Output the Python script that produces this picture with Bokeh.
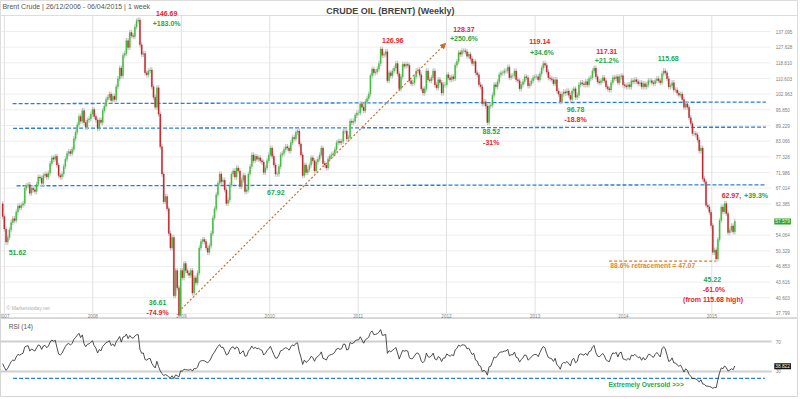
import numpy as np
import pandas as pd
from bokeh.plotting import figure
from bokeh.layouts import column
from bokeh.models import ColumnDataSource, Range1d, Label, Arrow, NormalHead
from bokeh.core.properties import value
from bokeh.embed import file_html
from bokeh.resources import INLINE

# ---------------- data (weekly Brent closes) ----------------
first_week = "2006-12-25"
rsi_warmup = [63.8, 60.5, 62.5, 59.8, 59.5, 57.9, 60.3, 60.0, 60.5, 58.3, 60.5, 63.4, 62.0, 63.1, 62.4]
closes_2006 = [58.9]
closes_2007 = [55.6, 52.4, 53.5, 55.4, 57.3,
               58.3, 57.8, 60.1, 61.8,
               61.3, 62.0, 62.5, 67.0,
               67.8, 68.1, 65.5, 67.0, 66.5,
               66.0, 68.2, 70.5, 70.2,
               68.5, 71.0, 71.5, 70.5,
               71.8, 75.0, 77.0, 76.5, 77.5,
               74.5, 71.0, 70.5, 71.5,
               74.0, 76.5, 78.5, 79.2,
               78.5, 80.0, 84.0, 86.5, 89.5,
               93.0, 91.0, 95.5, 90.5,
               88.5, 91.5, 92.0, 94.0, 96.0]
closes_2008 = [93.0, 91.5, 88.0, 91.5,
               90.5, 95.5, 97.5, 100.5,
               101.5, 103.0, 100.0, 102.0, 100.5,
               106.5, 110.5, 116.0, 112.0,
               123.0, 124.0, 131.5, 127.5,
               136.5, 134.5, 134.0, 140.0, 144.0,
               144.5, 129.0, 123.5, 124.0,
               113.5, 112.5, 114.5, 115.0,
               106.5, 101.5, 97.0, 106.0, 94.0,
               81.0, 71.5, 63.0, 64.5,
               61.0, 54.5, 51.0, 53.5,
               41.0, 46.0, 42.5, 37.5, 46.0]
closes_2009 = [44.5, 47.5, 46.0, 45.5,
               45.0, 46.0, 41.5, 44.5,
               43.5, 45.5, 51.0, 52.5, 53.0,
               52.5, 51.0, 50.0, 51.5,
               54.5, 58.5, 61.0, 65.0,
               68.5, 71.5, 69.0, 69.5, 66.5,
               62.5, 63.5, 68.0, 71.5,
               72.5, 70.5, 73.5, 72.5, 67.5,
               69.5, 71.0, 66.0, 66.5,
               71.5, 74.0, 78.0, 76.0,
               77.5, 76.5, 77.0, 76.0, 75.5,
               72.0, 73.5, 76.0, 78.0]
closes_2010 = [80.5, 77.5, 74.5, 71.5,
               71.5, 74.0, 78.0, 78.5,
               80.0, 81.0, 80.5, 79.5, 82.5,
               84.5, 84.0, 86.5, 87.0,
               82.0, 78.0, 71.0, 74.5, 72.0,
               73.0, 74.5, 77.0, 76.0,
               72.5, 75.5, 76.5, 78.0,
               80.5, 75.0, 74.5, 73.5, 76.5,
               77.5, 78.0, 78.5, 80.0,
               82.5, 83.0, 82.5, 83.0,
               87.0, 87.0, 84.0, 84.5, 91.0,
               90.5, 91.0, 93.5, 94.5]
closes_2011 = [94.5, 98.5, 97.0, 95.5, 99.5,
               101.0, 103.0, 112.0, 115.5,
               113.5, 114.0, 115.5, 118.5,
               126.5, 123.0, 123.5, 125.0,
               109.5, 113.5, 112.0, 114.5, 116.0,
               118.5, 113.0, 105.5, 111.5,
               118.0, 117.0, 118.0, 117.5,
               109.5, 108.0, 108.5, 111.5, 114.5,
               115.0, 112.5, 105.5, 103.5,
               105.5, 114.5, 110.0, 109.5, 111.0,
               114.5, 107.5, 106.0, 110.0,
               108.5, 103.5, 107.5, 107.5]
closes_2012 = [112.5, 111.0, 110.0, 111.5, 110.5,
               117.5, 119.5, 124.5, 123.5,
               125.5, 125.5, 125.0, 122.5,
               123.5, 121.0, 118.5, 119.5, 113.5,
               112.5, 107.5, 106.5, 98.5,
               99.5, 97.5, 90.5, 97.5,
               98.0, 102.5, 107.5, 106.5, 109.0,
               112.5, 113.5, 113.5, 114.5,
               114.5, 116.5, 111.0, 112.0,
               112.0, 114.5, 110.0, 109.5, 105.5,
               107.5, 109.0, 111.5, 111.0,
               107.0, 108.0, 109.5, 111.0, 111.5]
closes_2013 = [111.5, 110.0, 113.0, 116.0,
               118.5, 117.5, 114.0, 111.0,
               110.5, 110.0, 108.0, 110.0,
               104.5, 103.0, 99.5, 103.0, 104.0,
               103.5, 104.5, 102.5, 100.5,
               104.5, 105.5, 101.5, 102.5,
               107.5, 108.5, 108.0, 107.5, 109.0,
               107.5, 110.5, 111.0, 114.5,
               116.0, 111.5, 109.0, 108.5, 109.5,
               111.0, 109.5, 106.5, 105.5,
               105.0, 108.5, 111.0, 110.5,
               111.5, 108.5, 111.5, 112.0, 107.5]
closes_2014 = [107.0, 106.5, 107.5, 106.5,
               109.5, 109.0, 110.0, 109.0,
               108.0, 108.5, 106.5, 108.0, 106.5,
               107.5, 109.5, 109.5, 108.5,
               108.0, 109.5, 110.5, 109.5,
               108.5, 113.0, 114.5, 113.5, 110.5,
               106.5, 107.0, 108.5, 105.0,
               105.0, 103.5, 102.5, 103.0,
               100.5, 97.0, 98.5, 97.0, 92.5,
               90.0, 86.0, 86.0, 85.5,
               83.5, 79.5, 80.5, 70.0,
               69.0, 62.0, 61.5, 60.0, 56.5]
closes_2015 = [50.0, 50.5, 48.5, 53.0,
               57.8, 61.5, 60.2, 62.5,
               59.7, 54.7, 55.3, 56.4, 54.9,
               57.58]

price_ticks = [137.095, 127.628, 118.810, 110.603, 102.963, 95.850, 89.229, 83.066,
               77.328, 71.986, 67.014, 62.385, 58.076, 54.064, 50.329, 46.853, 43.616,
               40.603, 37.799]
price_tick_labels = ["137.095", "127.628", "118.810", "110.603", "102.963", "95.850",
                     "89.229", "83.066", "77.328", "71.986", "67.014", "62.385", "",
                     "54.064", "50.329", "46.853", "43.616", "40.603", "37.799"]
year_ticks = ["2007-01-01", "2008-01-01", "2009-01-01", "2010-01-01", "2011-01-01",
              "2012-01-01", "2013-01-01", "2014-01-01", "2015-01-01"]
year_labels = ["2007", "2008", "2009", "2010", "2011", "2012", "2013", "2014", "2015"]
rsi_ticks = [70, 30]
last_price_label, last_price = "57.579", 57.579
last_rsi_label, last_rsi_pos = "38.822", 36.9

support_left = [98.6, 88.1, 67.75]
support_right = [99.3, 88.55, 68.05]
support_start = ["2007-02-04", "2007-02-06", "2007-02-20"]
support_end = "2015-08-12"
retrace_level = 48.0
retrace_start, retrace_end = "2013-11-03", "2015-01-19"
trend_start = ("2008-12-21", 38.1)
trend_end = ("2011-12-28", 129.8)
oversold_level = 20.7
oversold_start, oversold_end = "2007-02-06", "2015-08-08"

RED, GREEN, ORANGE = "#e3262b", "#1ea64c", "#e08a36"
annotations = [
    ("146.69", "2008-11-01", 149.05, RED),
    ("+183.0%", "2008-11-01", 142.4, GREEN),
    ("51.62", "2007-02-24", 50.03, GREEN),
    ("36.61", "2008-09-25", 39.82, GREEN),
    ("-74.9%", "2008-09-25", 38.03, RED),
    ("67.92", "2010-01-26", 65.79, GREEN),
    ("126.96", "2011-05-24", 131.57, RED),
    ("128.37", "2012-03-13", 138.35, RED),
    ("+250.6%", "2012-03-13", 132.6, GREEN),
    ("88.52", "2012-07-04", 86.70, GREEN),
    ("-31%", "2012-07-04", 82.68, RED),
    ("119.14", "2013-01-20", 130.97, RED),
    ("+34.6%", "2013-01-29", 124.73, GREEN),
    ("96.78", "2013-06-17", 95.87, GREEN),
    ("-18.8%", "2013-06-17", 91.84, RED),
    ("117.31", "2013-10-24", 125.13, RED),
    ("+21.2%", "2013-10-24", 120.08, GREEN),
    ("115.68", "2014-07-05", 121.03, GREEN),
    ("45.22", "2015-01-03", 44.10, GREEN),
    ("-61.0%", "2015-01-10", 42.13, RED),
    ("(from 115.68 high)", "2015-01-06", 40.31, RED),
]
split_label_date, split_label_price = "2015-05-06", 64.81
retrace_text = ("88.6% retracement = 47.07", "2014-05-02", 47.08)
oversold_text = ("Extremely Oversold >>>", "2013-10-31", 12.7)

# ---------------- derived ----------------
closes = (closes_2006 + closes_2007 + closes_2008 + closes_2009 + closes_2010 +
          closes_2011 + closes_2012 + closes_2013 + closes_2014 + closes_2015)
dates = pd.date_range(first_week, periods=len(closes), freq="7D")
opens = [rsi_warmup[-1]] + closes[:-1]
WICK = 0.012
tops = [max(o, c) for o, c in zip(opens, closes)]
bots = [min(o, c) for o, c in zip(opens, closes)]
src = ColumnDataSource(dict(
    x=dates, top=tops, bot=bots,
    hi=[t * (1 + WICK) for t in tops], lo=[b * (1 - WICK) for b in bots],
    color=["#3cc13a" if c >= o else "#c0262b" for o, c in zip(opens, closes)]))

allc = np.array(rsi_warmup + closes, dtype=float)
d = np.diff(allc)
gain = np.where(d > 0, d, 0.0)
loss = np.where(d < 0, -d, 0.0)
n = 14
ag, al = gain[:n].mean(), loss[:n].mean()
rsi_vals = []
for i in range(n, len(d)):
    ag = (ag * (n - 1) + gain[i]) / n
    al = (al * (n - 1) + loss[i]) / n
    rsi_vals.append(100 * ag / (ag + al))

def ts(s):
    return pd.Timestamp(s)

WEEK_MS = 7 * 24 * 3600 * 1000
FW = 798
FONT = "Liberation Sans"
X_START, X_END = ts("2006-12-16"), ts("2015-12-25")
GRID_END = ts("2015-09-01")
TICK_LABEL_X = ts("2015-09-22")
BOX_X = ts("2015-09-16")
P_TOP, P_BOT = 157.96, 36.945          # price at frame top / bottom
HEADER_LINE, YEAR_LABEL_Y = 147.5, 37.45

xr = Range1d(start=X_START, end=X_END)

# ---------------- main price panel ----------------
p = figure(x_axis_type="datetime", y_axis_type="log", x_range=xr,
           y_range=Range1d(P_BOT, P_TOP), frame_width=FW, frame_height=318,
           x_axis_location=None, y_axis_location=None,
           output_backend="svg", toolbar_location=None,
           min_border_left=0, min_border_right=0, min_border_top=0, min_border_bottom=0)
p.grid.visible = False
p.outline_line_color = "#dddddd"
p.background_fill_color = "white"

# grid
p.segment(x0=[X_START] * len(price_ticks), x1=[GRID_END] * len(price_ticks),
          y0=price_ticks, y1=price_ticks, line_color="#eeeeee", line_width=1)
p.segment(x0=[ts(t) for t in year_ticks], x1=[ts(t) for t in year_ticks],
          y0=[HEADER_LINE] * len(year_ticks), y1=[37.799] * len(year_ticks),
          line_color="#e0e0e0", line_width=1)
p.segment(x0=[X_START], x1=[X_END], y0=[HEADER_LINE], y1=[HEADER_LINE],
          line_color="#dddddd", line_width=1)

# tick labels
p.text(x=[TICK_LABEL_X] * len(price_ticks), y=price_ticks, text=price_tick_labels,
       text_font=value(FONT), text_font_size=value("4.6px"), text_color="#808080",
       text_align="left", text_baseline="middle")
p.text(x=[ts(t) for t in year_ticks], y=[YEAR_LABEL_Y] * len(year_ticks), text=year_labels,
       text_font=value(FONT), text_font_size=value("4.6px"), text_color="#808080",
       text_align="center", text_baseline="middle")

for y0, y1, s0 in zip(support_left, support_right, support_start):
    p.line(x=[ts(s0), ts(support_end)], y=[y0, y1], line_color="#2a7fd4",
           line_width=1.3, line_dash="4 2")
p.line(x=[ts(retrace_start), ts(retrace_end)], y=[retrace_level, retrace_level],
       line_color="#e07b28", line_width=1.2, line_dash="3 2")

p.segment(x0="x", y0="lo", x1="x", y1="hi", source=src, line_color="#c6c6c6", line_width=1.2)
p.vbar(x="x", width=WEEK_MS * 0.72, top="top", bottom="bot", source=src,
       fill_color="color", line_color="color", line_width=0.3)

p.add_layout(Arrow(end=NormalHead(size=5, fill_color="#c8702a", line_color="#c8702a"),
                   x_start=ts(trend_start[0]), y_start=trend_start[1],
                   x_end=ts(trend_end[0]), y_end=trend_end[1],
                   line_color="#c8702a", line_width=1.2, line_dash="2 2"))

for txt, dte, pr, col in annotations:
    p.add_layout(Label(x=ts(dte), y=pr, text=txt, text_color=col, text_font=FONT,
                       text_font_size="7px", text_font_style="bold",
                       text_align="center", text_baseline="middle"))
p.add_layout(Label(x=ts(split_label_date), y=split_label_price, text="62.97,", x_offset=-1,
                   text_color=RED, text_font=FONT, text_font_size="7px", text_font_style="bold",
                   text_align="right", text_baseline="middle"))
p.add_layout(Label(x=ts(split_label_date), y=split_label_price, text="+39.3%", x_offset=2,
                   text_color=GREEN, text_font=FONT, text_font_size="7px", text_font_style="bold",
                   text_align="left", text_baseline="middle"))
p.add_layout(Label(x=ts(retrace_text[1]), y=retrace_text[2], text=retrace_text[0],
                   text_color=ORANGE, text_font=FONT, text_font_size="6.8px",
                   text_font_style="bold", text_align="center", text_baseline="middle"))

p.add_layout(Label(x=ts("2006-12-24"), y=153.7,
                   text="Brent Crude | 26/12/2006 - 06/04/2015 | 1 week",
                   text_color="#555555", text_font=FONT, text_font_size="7px",
                   text_baseline="middle", text_align="left"))
p.add_layout(Label(x=ts("2011-05-15"), y=150.9,
                   text="CRUDE OIL (BRENT) (Weekly)", text_color="#444444", text_font=FONT,
                   text_font_size="9px", text_font_style="bold",
                   text_baseline="middle", text_align="center"))
p.add_layout(Label(x=ts("2007-01-10"), y=38.68, text="© Marketstoday.net",
                   text_color="#b0b0b0", text_font=FONT, text_font_size="5px",
                   text_baseline="middle", text_align="left"))
p.add_layout(Label(x=BOX_X, y=last_price, text=last_price_label,
                   text_color="white", text_font=FONT, text_font_size="4.8px",
                   background_fill_color="#2ea52e", padding=1,
                   text_baseline="middle", text_align="left"))

# ---------------- RSI panel ----------------
r = figure(x_axis_type="datetime", x_range=xr, y_range=Range1d(-4.67, 100.67),
           frame_width=FW, frame_height=79,
           x_axis_location=None, y_axis_location=None,
           output_backend="svg", toolbar_location=None,
           min_border_left=0, min_border_right=0, min_border_top=0, min_border_bottom=0)
r.grid.visible = False
r.outline_line_color = "#d5d5d5"
r.segment(x0=[X_START] * 2, x1=[ts("2015-09-05")] * 2, y0=rsi_ticks, y1=rsi_ticks,
          line_color="#cfcfcf", line_width=2)
r.text(x=[TICK_LABEL_X] * 2, y=rsi_ticks, text=[str(v) for v in rsi_ticks],
       text_font=value(FONT), text_font_size=value("4.6px"), text_color="#808080",
       text_align="left", text_baseline="middle")
r.line(x=[ts(oversold_start), ts(oversold_end)], y=[oversold_level, oversold_level],
       line_color="#2a7fd4", line_width=1.3, line_dash="4 2")
r.line(x=dates, y=rsi_vals, line_color="#3a3a3a", line_width=0.9)
r.add_layout(Label(x=ts("2007-01-19"), y=90, text="RSI (14)",
                   text_color="#555555", text_font=FONT, text_font_size="6.5px",
                   text_baseline="middle", text_align="left"))
r.add_layout(Label(x=ts(oversold_text[1]), y=oversold_text[2], text=oversold_text[0],
                   text_color="#2aa84a", text_font=FONT, text_font_size="6.6px",
                   text_font_style="bold", text_baseline="middle", text_align="left"))
r.add_layout(Label(x=BOX_X, y=last_rsi_pos, text=last_rsi_label,
                   text_color="white", text_font=FONT, text_font_size="4.8px",
                   background_fill_color="#111111", padding=1,
                   text_baseline="middle", text_align="left"))

layout = column(p, r)
open("out.html", "w").write(file_html(layout, INLINE))
